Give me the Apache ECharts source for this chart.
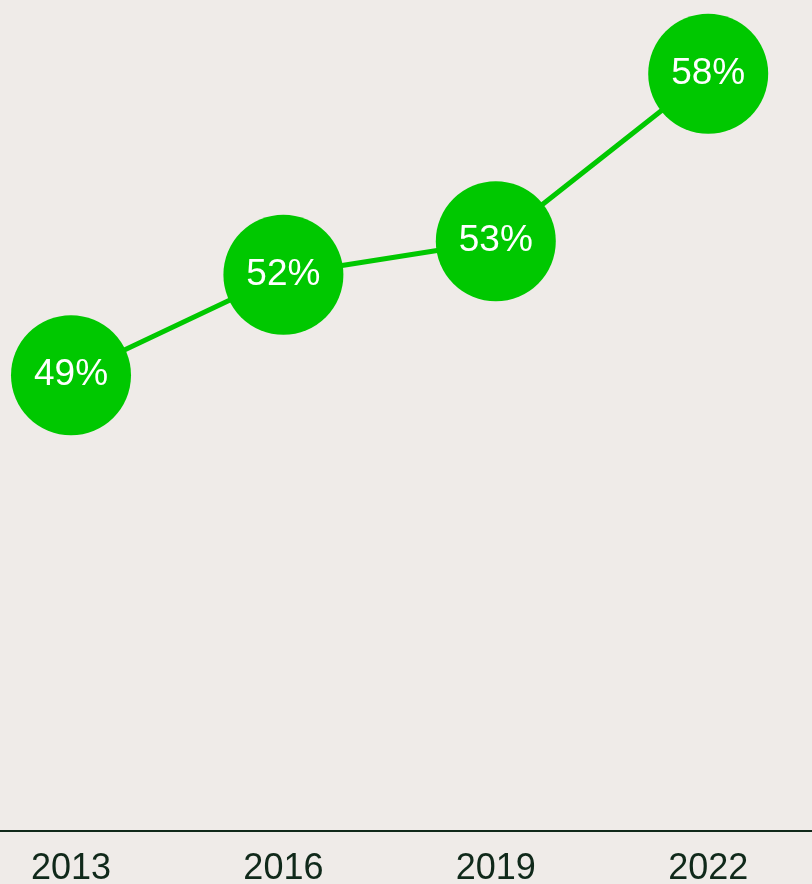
<!DOCTYPE html>
<html>
<head>
<meta charset="utf-8">
<style>
  html, body { margin: 0; padding: 0; background: #efebe8; }
  #chart { width: 812px; height: 884px; }
</style>
<script src="https://cdn.jsdelivr.net/npm/echarts@6/dist/echarts.min.js"></script>
</head>
<body>
<div id="chart"></div>
<script>
// Survey years and share (percent) for each year
const years = ['2013', '2016', '2019', '2022'];
const shares = [49, 52, 53, 58];

const green = '#00c800';
const ink = '#10291a';

const chart = echarts.init(document.getElementById('chart'), null, { renderer: 'canvas' });

chart.setOption({
  backgroundColor: '#efebe8',
  animation: false,
  grid: {
    left: -35.2, right: -2.4, top: 0, bottom: 53,
    containLabel: false,
    outerBoundsMode: 'none'
  },
  xAxis: {
    type: 'category',
    data: years,
    boundaryGap: true,
    axisLine: { show: true, lineStyle: { color: ink, width: 2 } },
    axisTick: { show: false },
    axisLabel: {
      color: ink,
      fontFamily: 'Liberation Sans, Arial, sans-serif',
      fontSize: 36,
      margin: 20
    },
    splitLine: { show: false }
  },
  yAxis: {
    type: 'value',
    min: 35.4,
    max: 60.2,
    show: false,
    splitLine: { show: false }
  },
  series: [{
    type: 'line',
    data: shares,
    symbol: 'circle',
    symbolSize: 120,
    lineStyle: { color: green, width: 5 },
    itemStyle: { color: green },
    label: {
      show: true,
      position: 'inside',
      color: '#ffffff',
      fontFamily: 'Liberation Sans, Arial, sans-serif',
      fontSize: 37,
      formatter: p => p.value + '%'
    },
    emphasis: { disabled: true }
  }]
});
</script>
</body>
</html>
